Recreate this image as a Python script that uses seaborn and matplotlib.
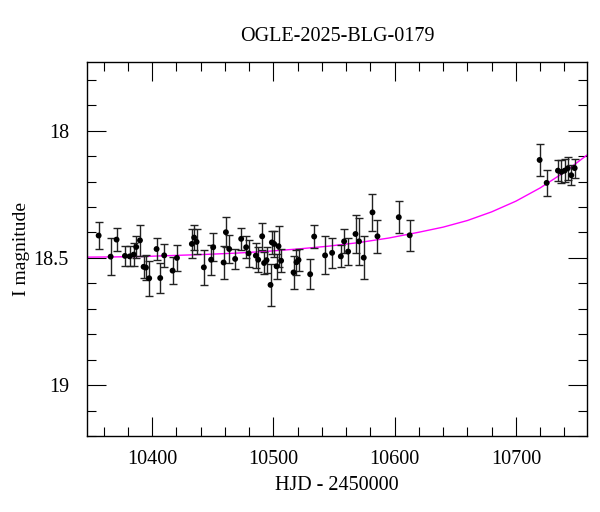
import numpy as np
import pandas as pd
import matplotlib
matplotlib.use('Agg')
import matplotlib.pyplot as plt
import seaborn as sns
from matplotlib.ticker import MultipleLocator

# photometry (HJD - 2450000, I mag, error)
hjd = [10355.8, 10365.7, 10370.6, 10377.5, 10381.4, 10384.7, 10386.8, 10389.9, 10392.9, 10394.8,
       10397.5, 10403.6, 10406.6, 10409.9, 10416.8, 10420.4, 10432.7, 10434.6, 10436.6, 10442.6,
       10448.6, 10450.3, 10458.9, 10460.8, 10463.5, 10468.4, 10473.4, 10477.5, 10479.5, 10485.5,
       10487.4, 10490.7, 10492.3, 10494.3, 10497.6, 10498.7, 10500.6, 10502.6, 10504.2, 10506.3,
       10516.6, 10519.0, 10520.7, 10530.3, 10533.6, 10542.6, 10548.4, 10555.6, 10558.3, 10561.6,
       10567.7, 10570.6, 10574.5, 10581.7, 10585.8, 10603.4, 10612.4, 10719.6, 10725.4, 10734.7,
       10737.5, 10740.2, 10742.7, 10745.7, 10748.5]
mag = [18.412, 18.495, 18.428, 18.492, 18.494, 18.487, 18.457, 18.431, 18.535, 18.538,
       18.580, 18.465, 18.579, 18.490, 18.550, 18.500, 18.445, 18.420, 18.437, 18.537,
       18.507, 18.458, 18.518, 18.399, 18.465, 18.504, 18.425, 18.458, 18.482, 18.491,
       18.507, 18.415, 18.520, 18.509, 18.606, 18.439, 18.445, 18.533, 18.454, 18.511,
       18.557, 18.517, 18.508, 18.564, 18.416, 18.490, 18.480, 18.494, 18.435, 18.475,
       18.406, 18.435, 18.499, 18.321, 18.415, 18.340, 18.411, 18.115, 18.205, 18.157,
       18.162, 18.157, 18.148, 18.175, 18.147]
err = [0.054, 0.074, 0.045, 0.039, 0.039, 0.046, 0.043, 0.061, 0.043, 0.050,
       0.069, 0.045, 0.060, 0.044, 0.052, 0.050, 0.057, 0.050, 0.049, 0.070,
       0.059, 0.056, 0.063, 0.060, 0.056, 0.038, 0.043, 0.043, 0.054, 0.050,
       0.050, 0.053, 0.043, 0.050, 0.083, 0.045, 0.050, 0.050, 0.080, 0.045,
       0.064, 0.050, 0.045, 0.059, 0.046, 0.075, 0.059, 0.043, 0.047, 0.052,
       0.074, 0.092, 0.084, 0.074, 0.065, 0.063, 0.060, 0.062, 0.050, 0.040,
       0.045, 0.045, 0.045, 0.040, 0.037]

# model curve
model_t = [10345, 10370, 10395, 10420, 10445, 10470, 10495, 10520, 10545, 10570,
           10595, 10620, 10640, 10660, 10680, 10700, 10720, 10740, 10760]
model_m = [18.497, 18.496, 18.494, 18.490, 18.486, 18.481, 18.474, 18.465, 18.454, 18.440,
           18.422, 18.399, 18.379, 18.353, 18.319, 18.277, 18.225, 18.163, 18.091]

df = pd.DataFrame({'hjd': hjd, 'mag': mag, 'err': err})
model = pd.DataFrame({'t': model_t, 'm': model_m})

sns.set_style('ticks')
plt.rcParams['font.family'] = ['Liberation Serif', 'DejaVu Serif']
plt.rcParams['text.color'] = 'black'
plt.rcParams['axes.labelcolor'] = 'black'
plt.rcParams['xtick.color'] = 'black'
plt.rcParams['ytick.color'] = 'black'
plt.rcParams['axes.edgecolor'] = 'black'

fig = plt.figure(figsize=(6, 5.12), dpi=100)
ax = fig.add_axes([0.145, 0.1484, 0.833, 0.7305])

sns.lineplot(data=model, x='t', y='m', color='#ff00ff', lw=1.0, ax=ax, zorder=1)
ax.errorbar(df['hjd'], df['mag'], yerr=df['err'], fmt='none', ecolor='#222222',
            elinewidth=1.0, capsize=3, capthick=1.0, zorder=2)
sns.scatterplot(data=df, x='hjd', y='mag', color='black', s=18, edgecolor='none', ax=ax, zorder=3)

ax.set_xlim(10346.2, 10758.5)
ax.set_ylim(19.2, 17.73)
ax.xaxis.set_major_locator(MultipleLocator(100))
ax.xaxis.set_minor_locator(MultipleLocator(20))
ax.yaxis.set_major_locator(MultipleLocator(0.5))
ax.yaxis.set_minor_locator(MultipleLocator(0.1))
ax.yaxis.set_major_formatter(plt.FuncFormatter(lambda v, p: f'{v:g}'))
ax.tick_params(which='both', direction='in', top=True, right=True, labelsize=14.5, width=0.8)
ax.tick_params(which='major', length=14)
ax.tick_params(axis='x', which='major', pad=10)
ax.tick_params(axis='y', which='major', pad=13)
ax.tick_params(which='minor', length=6.5)
for s in ax.spines.values():
    s.set_linewidth(1.0)

ax.set_xlabel('HJD - 2450000', fontsize=14.5, labelpad=5)
ax.set_ylabel('I magnitude', fontsize=14, labelpad=3)
ax.set_title('OGLE-2025-BLG-0179', fontsize=14.5, pad=15)

fig.savefig('out.png', dpi=100)
